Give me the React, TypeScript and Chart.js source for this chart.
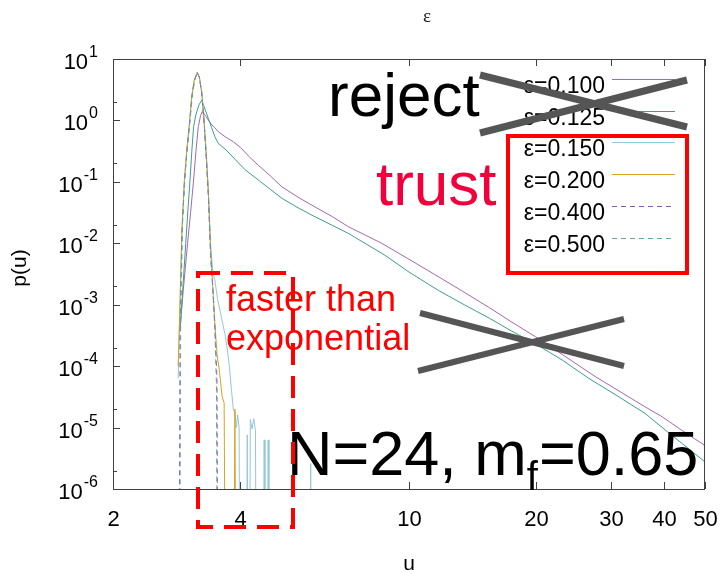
import React, { useEffect, useRef } from "react";
import { Chart, registerables } from "chart.js";

Chart.register(...registerables);

const SANS = '"Liberation Sans", Arial, Helvetica, sans-serif';
const SERIF = '"Liberation Serif", "DejaVu Serif", "Times New Roman", serif';

// Empty histogram bins sit far below the plotted range, so the trace drops straight off the frame.
const EMPTY = 1e-9;

const epsValues = ["0.100", "0.125", "0.150", "0.200", "0.400", "0.500"];

// ε = 0.100
const u100 = [2.88, 2.93, 3.0, 3.05, 3.1, 3.14, 3.18, 3.22, 3.25, 3.32, 3.4, 3.48, 3.545, 3.68, 3.85, 4.0, 4.21, 4.41, 4.7, 5.01, 5.5, 6.0, 6.6, 7.19, 7.9, 8.62, 10, 11.5, 13.3, 15.5, 17.5, 19.9, 23, 27.5, 32, 36, 39.6, 44, 50];
const p100 = [4.0e-4, 1.7e-3, 1.0e-2, 3.2e-2, 0.107, 0.316, 0.79, 1.2, 1.39, 1.15, 0.89, 0.76, 0.655, 0.543, 0.447, 0.363, 0.25, 0.186, 0.126, 8.3e-2, 5.5e-2, 3.9e-2, 2.7e-2, 1.86e-2, 1.35e-2, 1.0e-2, 5.5e-3, 3.1e-3, 1.7e-3, 8.9e-4, 5.2e-4, 3.0e-4, 1.55e-4, 6.8e-5, 3.6e-5, 2.2e-5, 1.5e-5, 9.1e-6, 5.1e-6];

// ε = 0.125
const u125 = [2.88, 2.92, 2.97, 3.01, 3.04, 3.07, 3.1, 3.14, 3.19, 3.24, 3.3, 3.36, 3.42, 3.48, 3.545, 3.7, 3.88, 4.1, 4.41, 4.7, 5.01, 5.5, 6.0, 6.6, 7.19, 7.87, 8.8, 10, 11.75, 13.5, 15.5, 17.5, 19.9, 23, 26.6, 31, 36.1, 40, 44, 47, 50];
const p125 = [4.0e-4, 1.6e-3, 1.0e-2, 4.0e-2, 0.107, 0.316, 0.79, 1.26, 1.78, 2.14, 1.51, 1.07, 0.76, 0.543, 0.424, 0.33, 0.234, 0.158, 0.107, 7.6e-2, 5.4e-2, 3.7e-2, 2.7e-2, 1.95e-2, 1.45e-2, 1.0e-2, 6.3e-3, 3.4e-3, 1.7e-3, 1.0e-3, 6.0e-4, 3.7e-4, 2.3e-4, 1.26e-4, 6.3e-5, 3.3e-5, 1.7e-5, 9.5e-6, 5.6e-6, 3.9e-6, 2.75e-6];

// ε = 0.150
const u150 = [2.85, 2.88, 2.91, 2.95, 2.99, 3.03, 3.07, 3.11, 3.16, 3.2, 3.24, 3.28, 3.32, 3.36, 3.4, 3.44, 3.48, 3.53, 3.58, 3.63, 3.68, 3.72, 3.76, 3.81, 3.85, 3.88, 3.91, 3.94, 3.97, 3.99, 4.13, 4.15, 4.17, 4.2, 4.22, 4.26, 4.3, 4.34, 4.36, 4.53, 4.55, 4.57, 4.63, 4.65, 4.67, 5.83, 5.86, 5.89];
const p150 = [6.3e-5, 1.0e-3, 1.6e-2, 0.107, 0.34, 0.85, 2.4, 4.4, 6.0, 5.0, 2.9, 1.05, 0.3, 7.1e-2, 1.0e-2, 3.5e-3, 2.5e-3, 1.26e-3, 7.9e-4, 5.0e-4, 3.2e-4, 2.0e-4, 1.1e-4, 4.0e-5, 1.9e-5, 1.8e-5, 1.0e-5, 1.6e-5, 1.0e-5, EMPTY, EMPTY, 7.6e-6, EMPTY, EMPTY, 1.35e-5, 9.5e-6, 1.4e-5, 8.9e-6, EMPTY, EMPTY, 6.3e-6, EMPTY, EMPTY, 6.3e-6, EMPTY, EMPTY, 2.6e-6, EMPTY];

// ε = 0.200
const u200 = [2.85, 2.88, 2.91, 2.95, 2.99, 3.03, 3.07, 3.11, 3.16, 3.2, 3.24, 3.28, 3.32, 3.36, 3.4, 3.44, 3.48, 3.52, 3.57, 3.62, 3.66, 3.69, 3.85, 3.88, 3.91];
const p200 = [1.0e-4, 1.26e-3, 1.8e-2, 0.112, 0.355, 0.89, 2.5, 4.47, 6.0, 5.0, 2.82, 1.0, 0.28, 6.3e-2, 7.9e-3, 2.0e-3, 5.0e-4, 1.6e-4, 7.9e-5, 3.2e-5, 2.5e-5, EMPTY, EMPTY, 2.0e-5, EMPTY];

// ε = 0.400
const u400 = [2.86, 2.88, 2.91, 2.95, 2.99, 3.03, 3.07, 3.11, 3.16, 3.2, 3.24, 3.28, 3.32, 3.36, 3.4, 3.44, 3.48, 3.52, 3.54];
const p400 = [EMPTY, 2.5e-4, 1.4e-2, 0.1, 0.316, 0.83, 2.4, 4.37, 6.0, 5.0, 2.75, 0.95, 0.25, 5.6e-2, 6.3e-3, 2.0e-3, 4.5e-4, 6.3e-5, EMPTY];

// ε = 0.500
const u500 = [2.87, 2.89, 2.92, 2.96, 3.0, 3.04, 3.08, 3.12, 3.16, 3.2, 3.24, 3.28, 3.32, 3.36, 3.4, 3.44, 3.48, 3.51, 3.53];
const p500 = [EMPTY, 6.3e-4, 2.5e-2, 0.141, 0.417, 1.0, 2.63, 4.57, 6.2, 5.0, 2.88, 1.05, 0.28, 6.3e-2, 7.1e-3, 1.8e-3, 4.0e-4, 5.0e-5, EMPTY];

const xTicks = [2, 4, 10, 20, 30, 40, 50];
const yDecades = [1, 0, -1, -2, -3, -4, -5, -6];

const seriesColors = ["#a468b4", "#3d9e8e", "#93c8da", "#d8a41e", "#8c55b0", "#62a8a6"];
const seriesDashes: number[][] = [[], [], [], [], [5, 4], [5, 4]];

function line(ctx: CanvasRenderingContext2D, x0: number, y0: number, x1: number, y1: number) {
  ctx.beginPath();
  ctx.moveTo(x0, y0);
  ctx.lineTo(x1, y1);
  ctx.stroke();
}

const framePlugin = {
  id: "gnuplotFrame",
  beforeDraw(chart: any) {
    const { ctx, width, height } = chart;
    ctx.save();
    ctx.fillStyle = "#ffffff";
    ctx.fillRect(0, 0, width, height);
    ctx.restore();
  },
  afterDatasetsDraw(chart: any) {
    const { ctx, chartArea: a, scales } = chart;
    const xs = scales.x;
    const ys = scales.y;
    ctx.save();

    // border
    ctx.strokeStyle = "#404040";
    ctx.lineWidth = 1;
    ctx.strokeRect(a.left + 0.5, a.top + 0.5, a.right - a.left - 1, a.bottom - a.top);

    // y axis: decades with superscript exponents, minor tick at 2×10^k
    ctx.fillStyle = "#000";
    ctx.textBaseline = "middle";
    const labelRight = a.left - 15;
    for (const e of yDecades) {
      const y = Math.round(ys.getPixelForValue(Math.pow(10, e))) + 0.5;
      line(ctx, a.left, y, a.left + 7, y);
      if (e < 1) {
        const ym = Math.round(ys.getPixelForValue(2 * Math.pow(10, e))) + 0.5;
        line(ctx, a.left, ym, a.left + 4, ym);
      }
      const exp = String(e);
      ctx.font = `16px ${SANS}`;
      const ew = ctx.measureText(exp).width;
      ctx.textAlign = "left";
      ctx.fillText(exp, labelRight - ew, y - 7);
      ctx.font = `22px ${SANS}`;
      ctx.textAlign = "right";
      ctx.fillText("10", labelRight - ew - 1, y + 3);
    }

    // x axis ticks (bottom and top, inward)
    ctx.font = `22px ${SANS}`;
    ctx.textAlign = "center";
    for (const v of xTicks) {
      const x = Math.round(xs.getPixelForValue(v)) + 0.5;
      line(ctx, x, a.bottom, x, a.bottom - 7);
      line(ctx, x, a.top, x, a.top + 7);
      ctx.fillText(String(v), x, a.bottom + 31);
    }

    // axis titles
    ctx.font = `21px ${SANS}`;
    ctx.fillText("u", (a.left + a.right) / 2 + 0, a.bottom + 75);
    ctx.save();
    ctx.translate(20, (a.top + a.bottom) / 2 - 6);
    ctx.rotate(-Math.PI / 2);
    ctx.fillText("p(u)", 0, 0);
    ctx.restore();
    ctx.font = `19px ${SERIF}`;
    ctx.fillStyle = "#222";
    ctx.fillText("ε", 427, 17);

    // key, gnuplot style: label right-aligned, sample line to its right
    ctx.fillStyle = "#000";
    ctx.font = `23px ${SANS}`;
    ctx.textAlign = "right";
    chart.data.datasets.forEach((ds: any, i: number) => {
      const y = Math.round(79 + i * 31.7) + 0.5;
      ctx.strokeStyle = ds.borderColor;
      ctx.lineWidth = 1;
      ctx.setLineDash(ds.borderDash || []);
      line(ctx, 612, y, 675, y);
      ctx.setLineDash([]);
      ctx.fillText(ds.label, 605, y + 7);
    });
    ctx.restore();
  },
  afterDraw(chart: any) {
    const { ctx } = chart;
    ctx.save();
    ctx.textAlign = "left";
    ctx.textBaseline = "alphabetic";

    ctx.font = `62px ${SANS}`;
    ctx.fillStyle = "#000";
    ctx.fillText("reject", 328, 116);
    ctx.fillStyle = "#f2003c";
    ctx.fillText("trust", 376, 205);

    ctx.strokeStyle = "#ff0000";
    ctx.lineWidth = 4;
    ctx.strokeRect(508, 136, 179, 137);

    ctx.strokeStyle = "#555555";
    ctx.lineWidth = 7;
    line(ctx, 480, 75, 687, 127);
    line(ctx, 480, 133, 687, 80);
    ctx.lineWidth = 6;
    line(ctx, 420, 313, 624, 366);
    line(ctx, 418, 371, 624, 319);

    ctx.fillStyle = "#ff0000";
    ctx.font = `36px ${SANS}`;
    ctx.fillText("faster than", 226, 311);
    ctx.fillText("exponential", 226, 350);

    ctx.fillStyle = "#000";
    let x = 287;
    ctx.font = `63px ${SANS}`;
    ctx.fillText("N=24, m", x, 475);
    x += ctx.measureText("N=24, m").width;
    ctx.font = `40px ${SANS}`;
    ctx.fillText("f", x, 490);
    x += ctx.measureText("f").width + 1;
    ctx.font = `63px ${SANS}`;
    ctx.fillText("=0.65", x, 475);

    ctx.strokeStyle = "#ff0000";
    ctx.lineWidth = 4;
    ctx.setLineDash([22, 11]);
    ctx.strokeRect(198, 273, 95, 254);
    ctx.setLineDash([]);
    ctx.restore();
  },
};

export default function App() {
  const ref = useRef<HTMLCanvasElement>(null);

  useEffect(() => {
    const canvas = ref.current;
    if (!canvas) return;
    const us = [u100, u125, u150, u200, u400, u500];
    const ps = [p100, p125, p150, p200, p400, p500];
    const datasets = us.map((u, i) => ({
      label: "ε=" + epsValues[i],
      data: u.map((x, k) => ({ x, y: ps[i][k] })),
      borderColor: seriesColors[i],
      borderDash: seriesDashes[i],
      borderWidth: 1,
      pointRadius: 0,
      fill: false,
      tension: 0,
      order: us.length - i,
    }));
    const chart = new Chart(canvas, {
      type: "line",
      data: { datasets },
      options: {
        animation: false,
        responsive: false,
        devicePixelRatio: 1,
        events: [],
        layout: { padding: { left: 113, right: 19, top: 59, bottom: 85 } },
        scales: {
          x: { type: "logarithmic", min: 2, max: 50, display: false },
          y: { type: "logarithmic", min: 1e-6, max: 10, display: false },
        },
        plugins: { legend: { display: false }, tooltip: { enabled: false } },
      },
      plugins: [framePlugin],
    } as any);
    return () => chart.destroy();
  }, []);

  return (
    <div style={{ position: "fixed", left: 0, top: 0, width: 724, height: 574, background: "#fff" }}>
      <canvas ref={ref} width={724} height={574} style={{ display: "block", width: 724, height: 574 }} />
    </div>
  );
}
